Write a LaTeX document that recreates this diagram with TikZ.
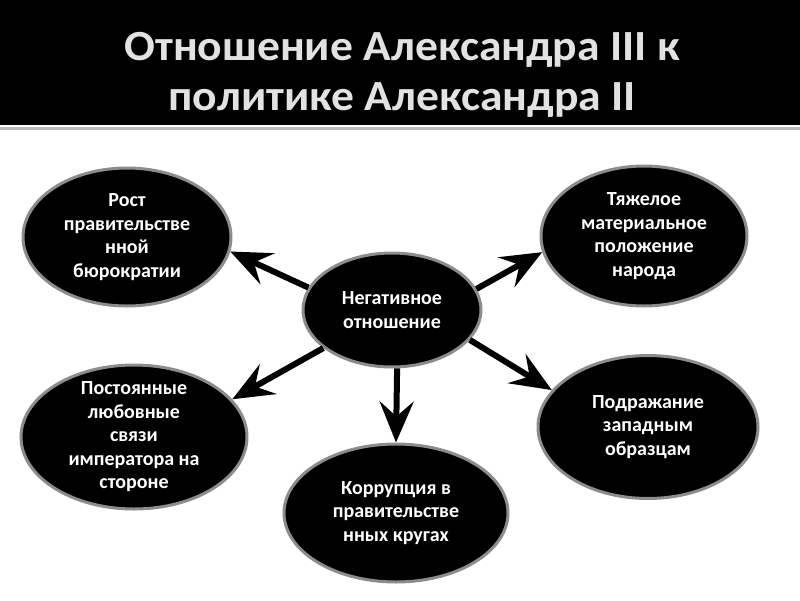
\documentclass[tikz,border=0pt]{standalone}
\usepackage{fontspec}
\setmainfont{Carlito}
\newfontfamily\titlefont[FakeStretch=1.06]{Carlito}
\usetikzlibrary{shapes.geometric,arrows.meta}
\definecolor{titlegray}{HTML}{E2E2E2}
\definecolor{rimgray}{HTML}{8C8C8C}
\begin{document}
\begin{tikzpicture}[x=1pt,y=-1pt,
  ell/.style={ellipse, fill=black, draw=rimgray, line width=3pt, inner sep=0pt},
  etext/.style={text=white, font=\bfseries\fontsize{20}{23.5}\selectfont, align=center, inner sep=0pt},
  ttext/.style={text=titlegray, font=\titlefont\bfseries\fontsize{43}{50}\selectfont, anchor=base, inner sep=0pt},
  arr/.style={line width=6pt, -{Stealth[length=41pt,width=34pt,inset=15pt]}}]
\useasboundingbox (0,0) rectangle (800,600);
\fill[white] (0,0) rectangle (800,600);
\fill[black] (0,0) rectangle (800,125);
\draw[gray!55, line width=2.5pt] (0,128.5) -- (800,128.5);
\node[ttext] (title1) at (402,60) {Отношение Александра III к};
\node[ttext] (title2) at (402,110) {политике Александра II};

\node[ell, minimum width=208pt, minimum height=138pt] (e1) at (127,237) {};
\node[ell, minimum width=206pt, minimum height=140pt] (e2) at (644,236) {};
\node[ell, minimum width=178pt, minimum height=114pt] (c) at (392,310) {};
\node[ell, minimum width=226pt, minimum height=144pt] (e4) at (134,437) {};
\node[ell, minimum width=224pt, minimum height=138pt] (e5) at (396,513) {};
\node[ell, minimum width=220pt, minimum height=143pt] (e6) at (648,427) {};

\node[etext] (e1t) at (e1) {Рост\\правительстве\\нной\\бюрократии};
\node[etext] (e2t) at (e2) {Тяжелое\\материальное\\положение\\народа};
\node[etext] (ct) at (c) {Негативное\\отношение};
\node[etext] (e4t) at (e4) {Постоянные\\любовные\\связи\\императора на\\стороне};
\node[etext] (e5t) at (e5) {Коррупция в\\правительстве\\нных кругах};
\node[etext] (e6t) at (e6) {Подражание\\западным\\образцам};

\draw[arr] (c.165.8) -- (e1.-8.7);
\draw[arr] (c.14) -- (e2.-171);
\draw[arr] (c.-151) -- (e4.21.7);
\draw[arr] (c.-85) -- (e5.90);
\draw[arr] (c.-21.5) -- (e6.159);
\end{tikzpicture}
\end{document}
